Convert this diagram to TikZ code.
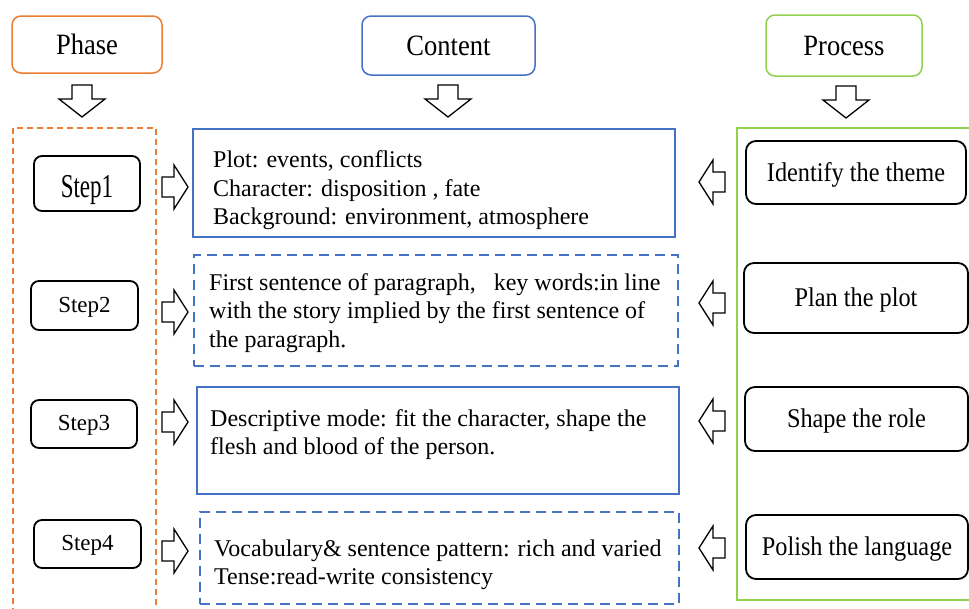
\documentclass[tikz,border=0pt]{standalone}
\usepackage{fontspec}
\setmainfont{Liberation Serif}
\newfontfamily\condfont{Liberation Serif}[FakeStretch=0.9]
\definecolor{ora}{RGB}{237,125,49}
\definecolor{blu}{RGB}{68,114,196}
\definecolor{grn}{RGB}{146,208,80}
\begin{document}
\begin{tikzpicture}[x=1pt,y=-1pt,
  hdr/.style={draw, rounded corners=9pt, line width=1.5pt, font=\condfont\fontsize{29.5}{32}\selectfont},
  stepbox/.style={draw, rounded corners=8pt, line width=1.8pt, font=\fontsize{23}{26}\selectfont, text height=16pt, text depth=3pt},
  procbox/.style={draw, rounded corners=10pt, line width=1.8pt, font=\condfont\fontsize{27}{30}\selectfont, text height=19pt, text depth=2pt},
  cbox/.style={draw=blu, line width=1.5pt},
  cdash/.style={cbox, dash pattern=on 10pt off 6pt},
  ctext/.style={anchor=west, align=left, inner sep=0pt, font=\fontsize{24}{28.5}\selectfont},
  blk/.style={draw, line width=1.3pt, fill=white, line join=miter},
  darrow/.pic={\draw[blk] (-10,-16) -- (10,-16) -- (10,-2) -- (23,-2) -- (0,16) -- (-23,-2) -- (-10,-2) -- cycle;},
  rarrow/.pic={\draw[blk] (-13,-10) -- (-1,-10) -- (-1,-22) -- (13,0) -- (-1,22) -- (-1,10) -- (-13,10) -- cycle;},
  larrow/.pic={\draw[blk] (13,-10) -- (1,-10) -- (1,-22) -- (-13,0) -- (1,22) -- (1,10) -- (13,10) -- cycle;}
]
\useasboundingbox[fill=white] (0,0) rectangle (969,608);

% containers
\draw[ora, line width=1.5pt, dash pattern=on 6pt off 4pt] (13,128) rectangle (156,630);
\draw[grn, line width=1.8pt] (737,128) rectangle (990,600);

% headers
\node[hdr, draw=ora, minimum width=150, minimum height=57] (phase) at (87,44.5) {Phase};
\node[hdr, draw=blu, minimum width=173, minimum height=59] (content) at (448.5,45.5) {Content};
\node[hdr, draw=grn, minimum width=156, minimum height=61] (process) at (844,45.5) {Process};

\pic at (82,101) {darrow};
\pic at (448,101) {darrow};
\pic at (846,102) {darrow};

% steps
\node[stepbox, minimum width=106, minimum height=55, text height=30pt, text depth=2pt] (s1) at (87,183.5) {\scalebox{1}[1.45]{Step1}};
\node[stepbox, minimum width=107, minimum height=49] (s2) at (84.5,305.5) {Step2};
\node[stepbox, minimum width=106, minimum height=48] (s3) at (84,424) {Step3};
\node[stepbox, minimum width=107, minimum height=48] (s4) at (87.5,544) {Step4};

\pic at (175,187) {rarrow};
\pic at (175,312) {rarrow};
\pic at (175,422) {rarrow};
\pic at (175,551) {rarrow};

% content boxes
\node[cbox, minimum width=482, minimum height=108] (c1) at (434,183) {};
\node[cdash, minimum width=484, minimum height=111] (c2) at (436,310.5) {};
\node[cbox, minimum width=482, minimum height=107] (c3) at (438,440.5) {};
\node[cdash, minimum width=479, minimum height=92] (c4) at (439.5,558) {};

\node[ctext] (t1) at (213,190.5) {Plot: events, conflicts\\Character: disposition , fate\\Background: environment, atmosphere};
\node[ctext] (t2) at (209,313) {First sentence of paragraph,\ \ \ key words:in line\\with the story implied by the first sentence of\\the paragraph.};
\node[ctext] (t3) at (210,434.8) {Descriptive mode: fit the character, shape the\\flesh and blood of the person.};
\node[ctext] (t4) at (214,565) {Vocabulary\& sentence pattern: rich and varied\\Tense:read-write consistency};

\pic at (712,182) {larrow};
\pic at (712,303) {larrow};
\pic at (712,421) {larrow};
\pic at (712,548) {larrow};

% process boxes
\node[procbox, minimum width=220, minimum height=63] (p1) at (856,172.5) {Identify the theme};
\node[procbox, minimum width=224, minimum height=70] (p2) at (856,298) {Plan the plot};
\node[procbox, minimum width=223, minimum height=64] (p3) at (856.5,419) {Shape the role};
\node[procbox, minimum width=222, minimum height=64] (p4) at (857,547) {Polish the language};
\end{tikzpicture}
\end{document}
